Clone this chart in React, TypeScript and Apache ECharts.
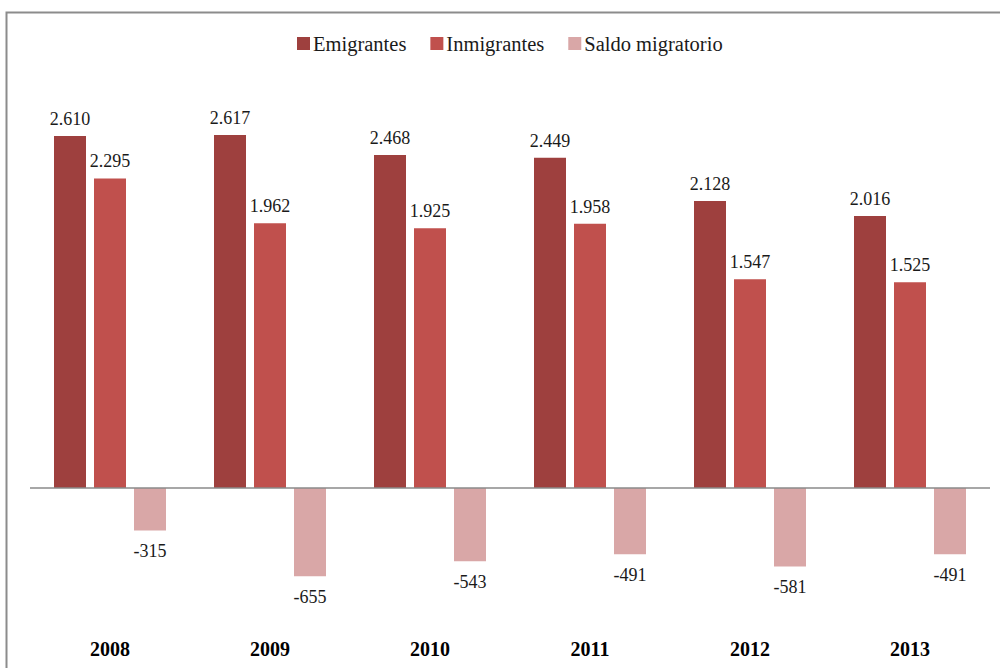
import React, { useEffect, useRef } from "react";
import * as echarts from "echarts";

const years = ["2008", "2009", "2010", "2011", "2012", "2013"];
const emigrantes = [2610, 2617, 2468, 2449, 2128, 2016];
const inmigrantes = [2295, 1962, 1925, 1958, 1547, 1525];
const saldo = [-315, -655, -543, -491, -581, -491];

const fmt = (v: number) => {
  const s = Math.abs(v).toString();
  const body = s.length > 3 ? s.slice(0, s.length - 3) + "." + s.slice(s.length - 3) : s;
  return (v < 0 ? "-" : "") + body;
};

const FONT = "'Liberation Serif', 'Times New Roman', serif";

export default function App() {
  const ref = useRef<HTMLDivElement>(null);
  useEffect(() => {
    document.body.style.margin = "0";
    const chart = echarts.init(ref.current!, null, { renderer: "svg" });
    const labelStyle = {
      show: true,
      fontFamily: FONT,
      fontSize: 18,
      color: "#1a1a1a",
      formatter: (p: any) => fmt(p.value),
    };
    chart.setOption({
      animation: false,
      backgroundColor: "#ffffff",
      graphic: [
        {
          type: "rect",
          shape: { x: 6.5, y: 12.5, width: 1100, height: 800 },
          style: { fill: "none", stroke: "#8c8c8c", lineWidth: 2 },
          silent: true,
        },
      ],
      legend: {
        top: 28,
        left: 292,
        itemWidth: 13,
        itemHeight: 13,
        itemGap: 24,
        icon: "rect",
        textStyle: { fontFamily: FONT, fontSize: 20.5, color: "#1a1a1a", padding: [0, 0, 0, -2] },
        data: ["Emigrantes", "Inmigrantes", "Saldo migratorio"],
      },
      grid: { left: 30, right: 10, top: 83.3, bottom: 45.1 },
      xAxis: {
        type: "category",
        data: years,
        axisLine: { show: false, onZero: false },
        axisTick: { show: false },
        axisLabel: {
          margin: 16,
          fontFamily: FONT,
          fontSize: 20,
          fontWeight: "bold",
          color: "#000000",
        },
      },
      yAxis: {
        type: "value",
        min: -1000,
        max: 3000,
        show: false,
        splitLine: { show: false },
      },
      series: [
        {
          name: "Emigrantes",
          type: "bar",
          data: emigrantes,
          barWidth: 32,
          barGap: "25%",
          itemStyle: { color: "#9e403e" },
          label: { ...labelStyle, position: "top", distance: 8 },
          markLine: {
            silent: true,
            symbol: "none",
            label: { show: false },
            lineStyle: { color: "#8a8a8a", width: 1.6, type: "solid" },
            data: [{ yAxis: 0 }],
          },
        },
        {
          name: "Inmigrantes",
          type: "bar",
          data: inmigrantes,
          barWidth: 32,
          barGap: "25%",
          itemStyle: { color: "#c0504d" },
          label: { ...labelStyle, position: "top", distance: 8 },
        },
        {
          name: "Saldo migratorio",
          type: "bar",
          data: saldo,
          barWidth: 32,
          barGap: "25%",
          itemStyle: { color: "#d9a7a7" },
          label: { ...labelStyle, position: "bottom", distance: 12 },
        },
      ],
    });
    return () => chart.dispose();
  }, []);
  return <div ref={ref} style={{ width: 1000, height: 668 }} />;
}
